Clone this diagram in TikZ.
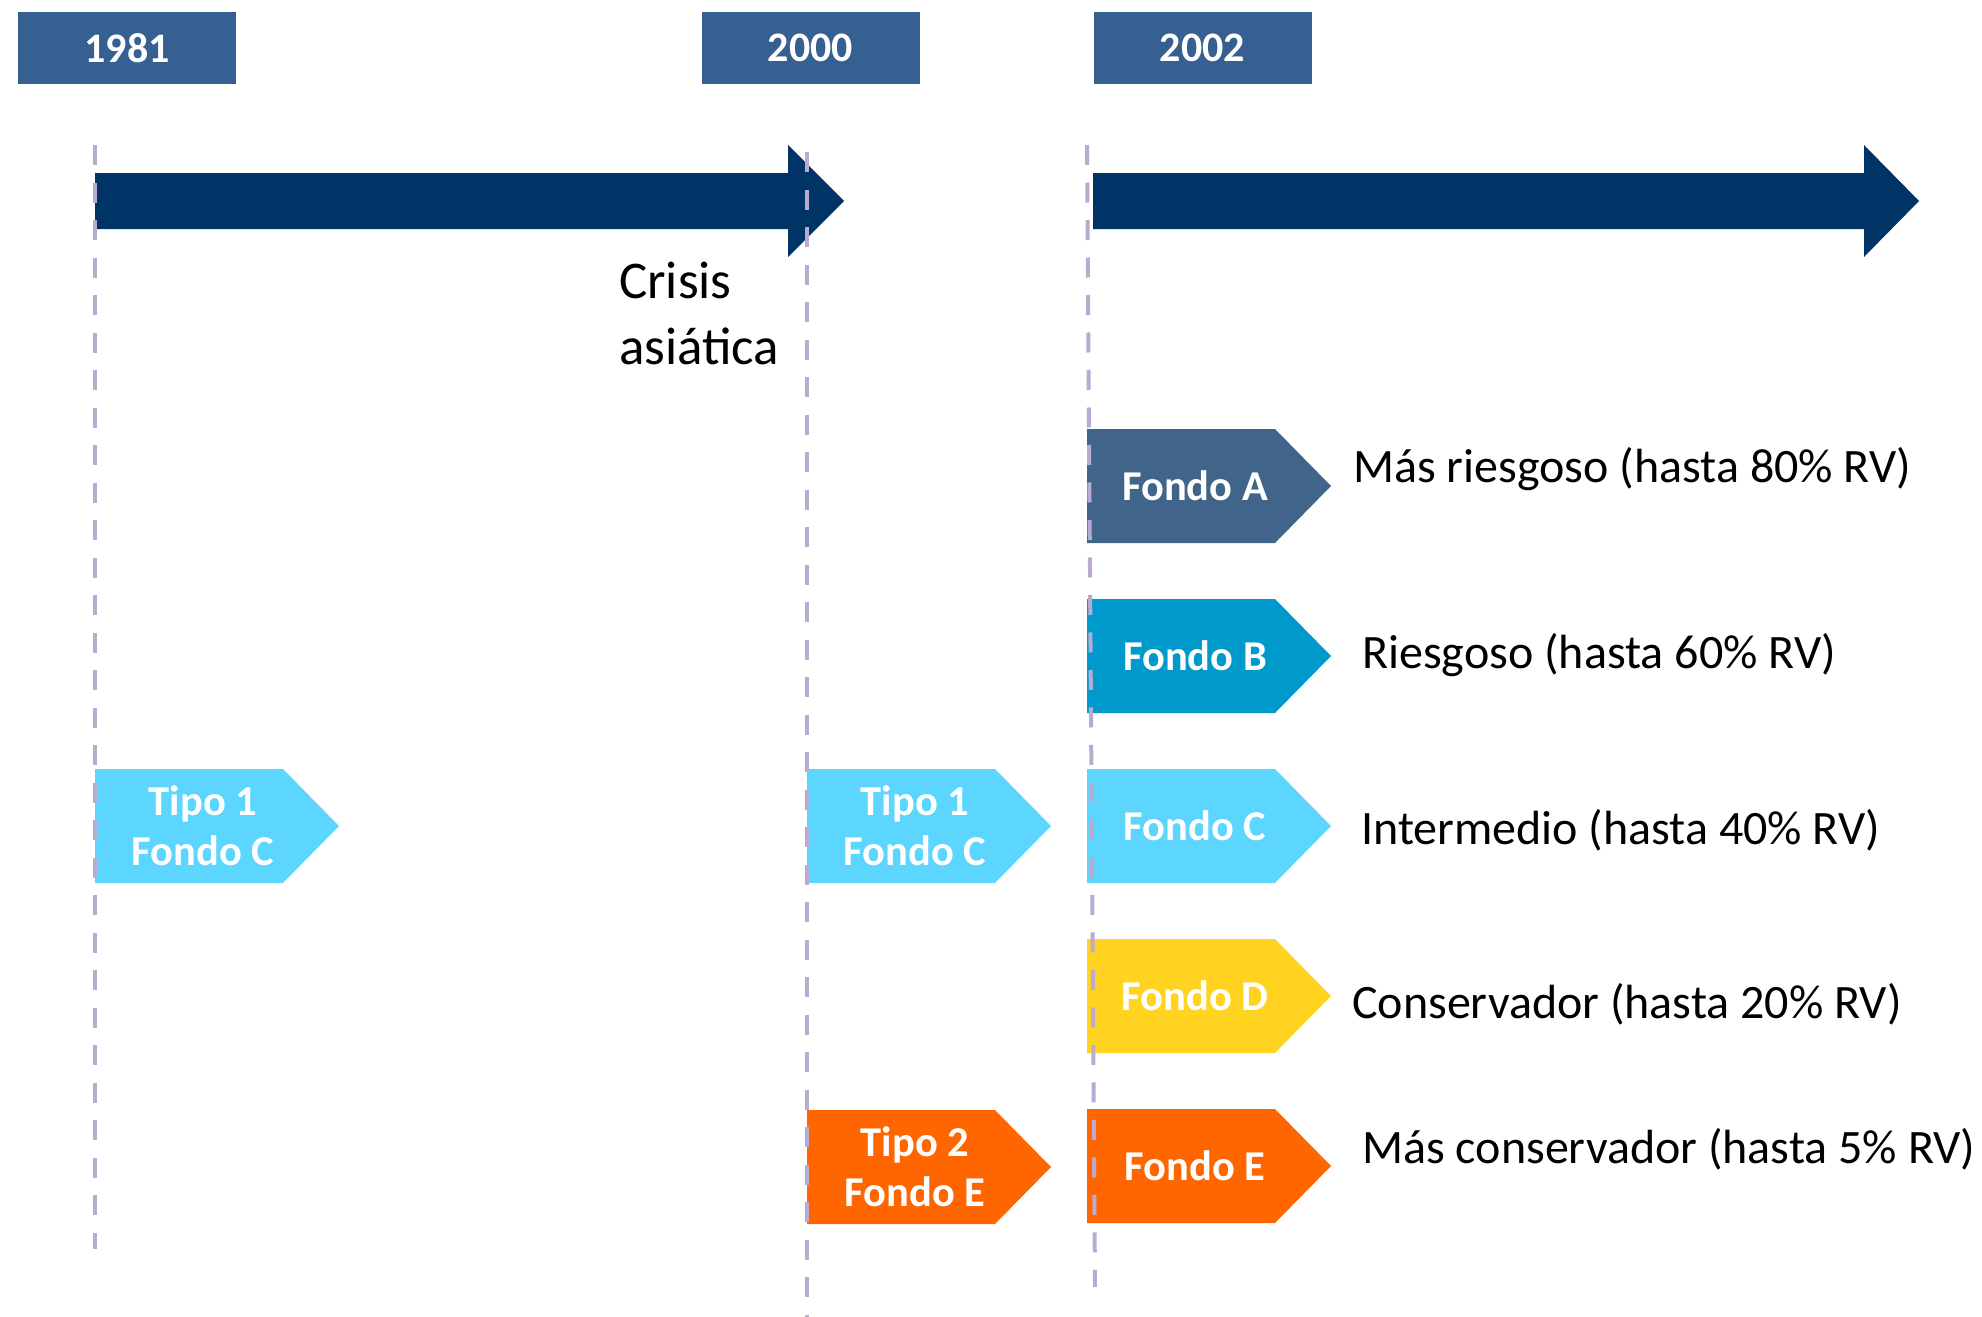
\documentclass[tikz,border=0pt]{standalone}
\usepackage{fontspec}
\setmainfont{Carlito}
\definecolor{yearblue}{RGB}{54,96,146}
\definecolor{navy}{RGB}{0,51,102}
\definecolor{fondoA}{RGB}{65,100,138}
\definecolor{fondoB}{RGB}{0,153,204}
\definecolor{fondoC}{RGB}{92,214,255}
\definecolor{fondoD}{RGB}{255,211,32}
\definecolor{fondoE}{RGB}{255,102,0}
\definecolor{guide}{RGB}{185,170,210}
\tikzset{
  yearbox/.style={fill=yearblue, text=white, font=\fontsize{42}{50}\selectfont\bfseries,
    minimum width=218pt, minimum height=72pt, inner sep=0pt},
  chevtext/.style={text=white, font=\fontsize{42.5}{50}\selectfont\bfseries, align=center, inner sep=0pt},
  desc/.style={font=\fontsize{48}{57}\selectfont, anchor=base west, inner sep=0pt},
  crisistext/.style={font=\fontsize{53}{63}\selectfont, anchor=base west, inner sep=0pt},
  guideline/.style={draw=guide, line width=4pt, dash pattern=on 20pt off 17.5pt},
  bigarrow/.style={fill=navy}
}
% #1 name, #2 left x, #3 centre y, #4 colour, #5 text
\newcommand\chevron[5]{%
  \fill[#4] (#2,#3-57) -- ++(188,0) -- ++(56,57) -- ++(-56,57) -- ++(-188,0) -- cycle;
  \node[chevtext] (#1) at ({#2+108},#3) {#5};
}
\begin{document}
\begin{tikzpicture}[x=1pt,y=-1pt]
\useasboundingbox (0,0) rectangle (1982,1317);

% year boxes
\node[yearbox] (y1981) at (127,48) {1981};
\node[yearbox] (y2000) at (810.5,48) {2000};
\node[yearbox] (y2002) at (1202.5,48) {2002};

% timeline arrows
\fill[bigarrow] (95,173) -- (788,173) -- (788,145) -- (844,201) -- (788,257) -- (788,229) -- (95,229) -- cycle;
\fill[bigarrow] (1093,173) -- (1864,173) -- (1864,145) -- (1919,201) -- (1864,257) -- (1864,229) -- (1093,229) -- cycle;

% crisis label
\node[crisistext] (crisis1) at (619,298) {Crisis};
\node[crisistext] (crisis2) at (619,364) {asiática};

% chevrons
\chevron{t1981}{95}{826}{fondoC}{Tipo 1\\Fondo C}
\chevron{t2000a}{807}{826}{fondoC}{Tipo 1\\Fondo C}
\chevron{t2000b}{807}{1167}{fondoE}{Tipo 2\\Fondo E}
\chevron{fA}{1087}{486}{fondoA}{Fondo A}
\chevron{fB}{1087}{656}{fondoB}{Fondo B}
\chevron{fC}{1087}{826}{fondoC}{Fondo C}
\chevron{fD}{1087}{996}{fondoD}{Fondo D}
\chevron{fE}{1087}{1166}{fondoE}{Fondo E}

% descriptions
\node[desc] (dA) at (1353,482) {Más riesgoso (hasta 80\% RV)};
\node[desc] (dB) at (1362,668) {Riesgoso (hasta 60\% RV)};
\node[desc] (dC) at (1361,844) {Intermedio (hasta 40\% RV)};
\node[desc] (dD) at (1352,1018) {Conservador (hasta 20\% RV)};
\node[desc] (dE) at (1362,1163) {Más conservador (hasta 5\% RV)};

% dashed guide lines
\coordinate (g1top) at (95,145);
\coordinate (g1bot) at (95,1249);
\coordinate (g2top) at (807,152);
\coordinate (g2bot) at (807,1317);
\coordinate (g3top) at (1087,145);
\coordinate (g3bot) at (1095,1287);
\draw[guideline] (g1top) -- (g1bot);
\draw[guideline] (g2top) -- (g2bot);
\draw[guideline] (g3top) -- (g3bot);
\end{tikzpicture}
\end{document}
